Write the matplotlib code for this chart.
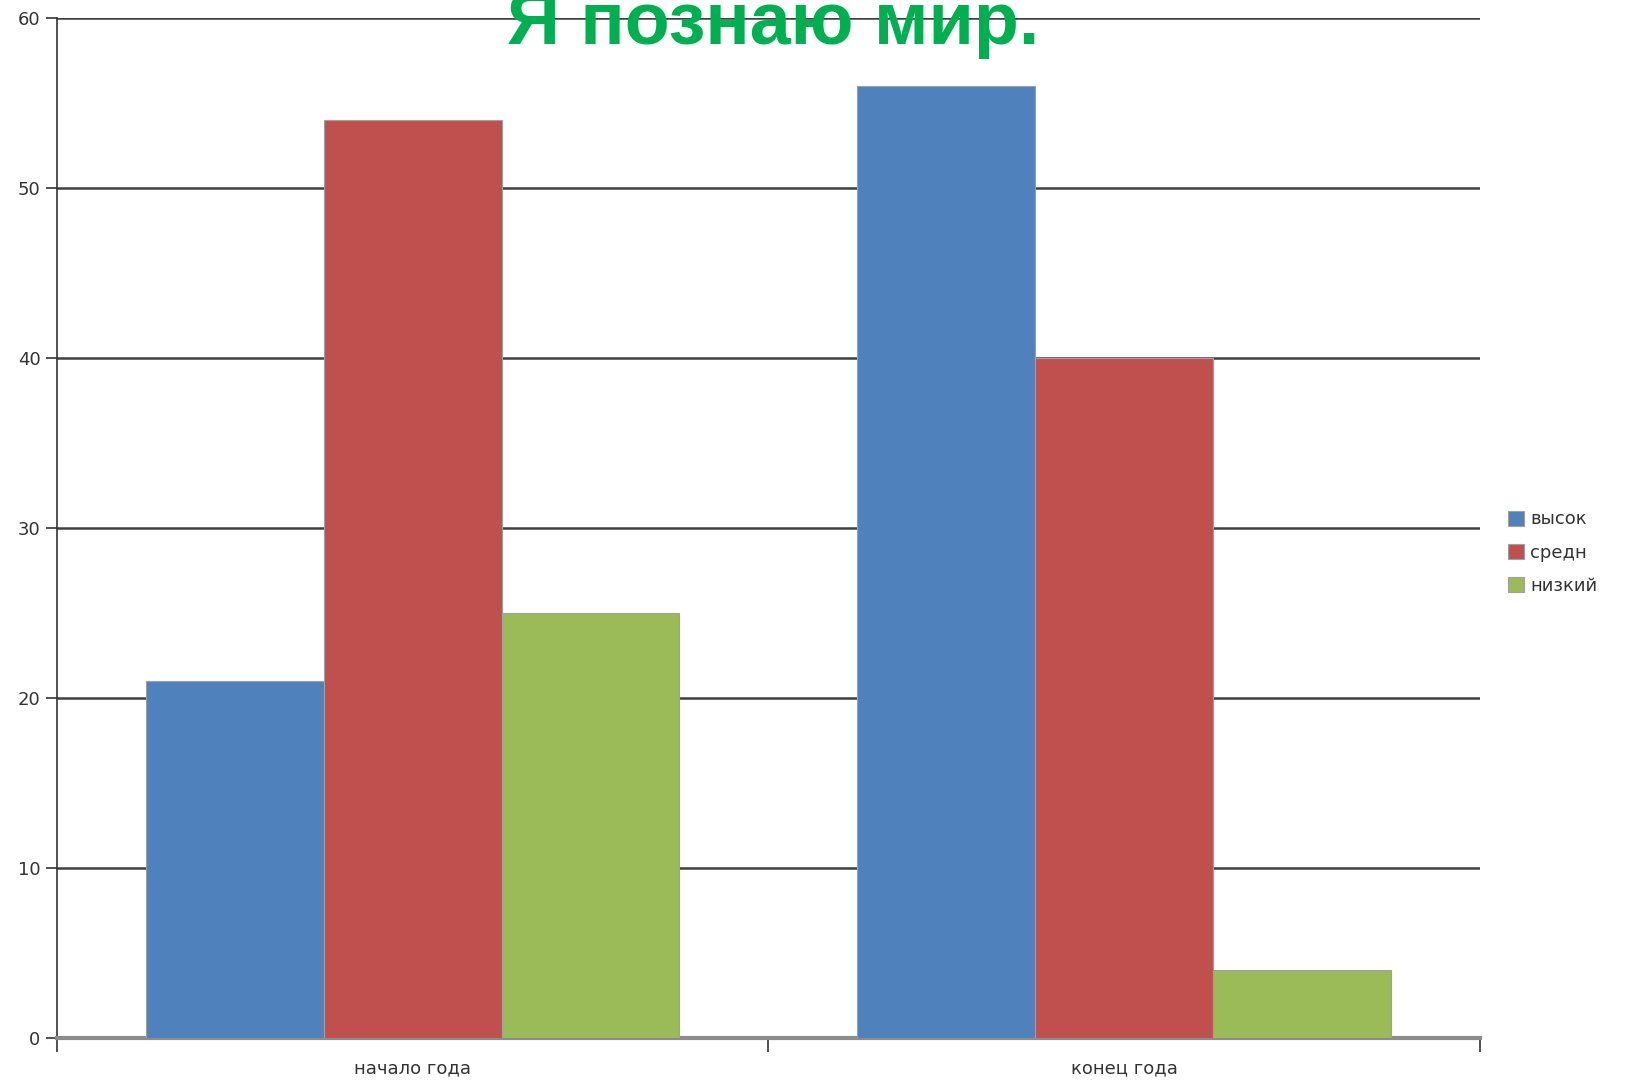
import numpy as np
import matplotlib.pyplot as plt

# data
categories = ['начало года', 'конец года']
series_names = ['высок', 'средн', 'низкий']
vysok = [21, 56]
sredn = [54, 40]
nizkiy = [25, 4]
colors = ['#4F81BD', '#C0504D', '#9BBB59']

fig = plt.figure(figsize=(16.28, 10.84), dpi=100)
ax = fig.add_axes([0.035, 0.0424, 0.874, 0.9414])

x = np.arange(len(categories))
width = 0.25
for i, (vals, name) in enumerate(zip([vysok, sredn, nizkiy], series_names)):
    ax.bar(x + (i - 1) * width, vals, width, color=colors[i], label=name,
           edgecolor='#a0a0a0', linewidth=0.8, zorder=3)

ax.set_xlim(-0.5, 1.5)
ax.set_ylim(0, 60)
ax.set_yticks(range(0, 61, 10))
ax.yaxis.grid(True, color='#404040', linewidth=1.8, zorder=0)
ax.set_axisbelow(True)

# category labels sit between the boundary ticks
ax.set_xticks([-0.5, 0.5, 1.5])
ax.set_xticklabels([])
ax.set_xticks(x, minor=True)
ax.set_xticklabels(categories, minor=True)
ax.tick_params(axis='x', which='major', length=10, width=1.2, color='#333333', direction='out')
ax.tick_params(axis='x', which='minor', length=0, pad=15, labelsize=13, labelcolor='#333333')
ax.tick_params(axis='y', length=8, width=1.2, color='#333333', labelsize=13, labelcolor='#333333', pad=4)

for s in ['top', 'right']:
    ax.spines[s].set_visible(False)
ax.spines['left'].set_color('#333333')
ax.spines['left'].set_linewidth(1.2)
ax.spines['bottom'].set_color('#8c8c8c')
ax.spines['bottom'].set_linewidth(3)

fig.legend(loc='center left', bbox_to_anchor=(0.922, 0.490), frameon=False,
           fontsize=13, handlelength=0.9, handleheight=0.9, handletextpad=0.3,
           labelspacing=0.85, labelcolor='#333333', borderaxespad=0)

fig.text(0.475, 0.9594, 'Я познаю мир.', color='#00B050', fontsize=53,
         fontweight='bold', family='Liberation Sans', ha='center', va='baseline')

fig.savefig('out.png', dpi=100)
